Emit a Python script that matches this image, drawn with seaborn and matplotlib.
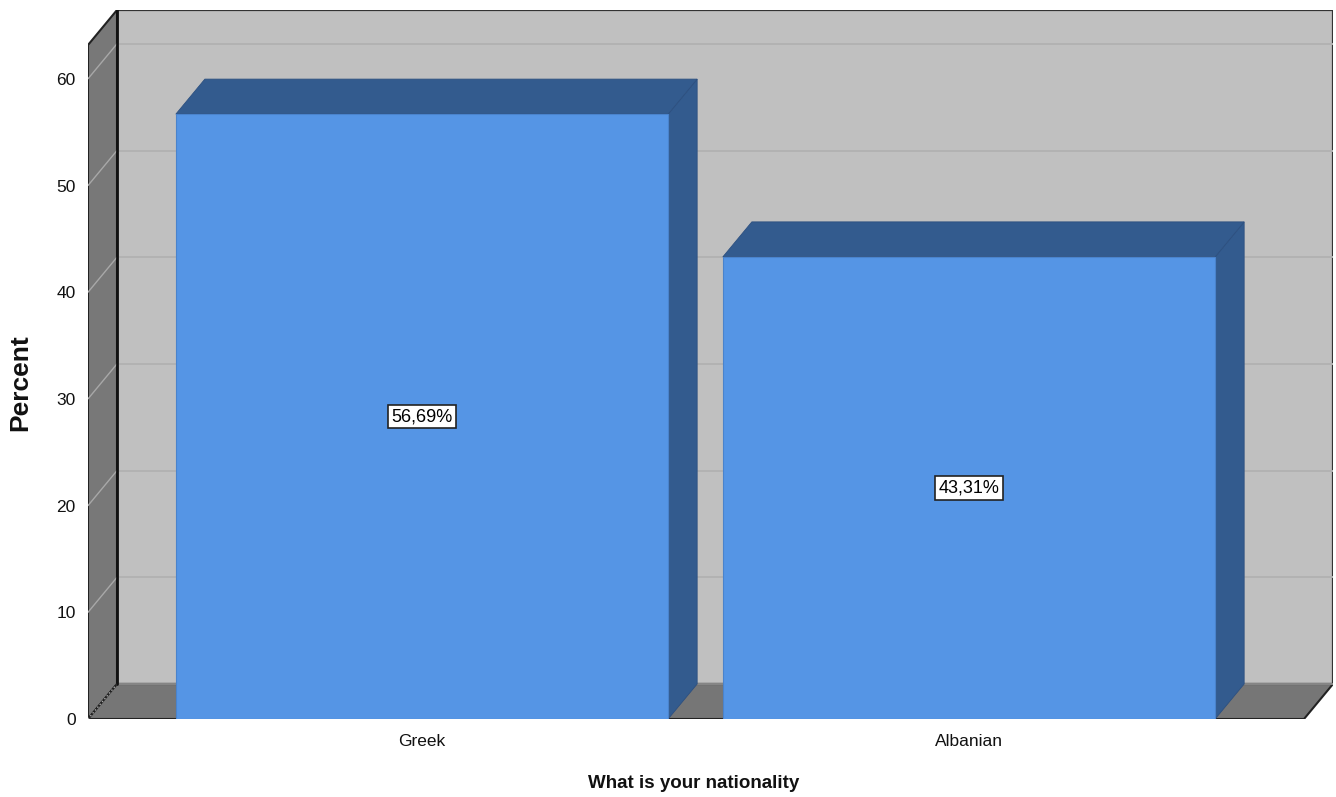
import matplotlib
matplotlib.use("Agg")
import matplotlib.pyplot as plt
import seaborn as sns
import pandas as pd
from matplotlib.patches import Polygon, Rectangle

# Data
categories = ["Greek", "Albanian"]
percent = [56.69, 43.31]
value_labels = ["56,69%", "43,31%"]
y_ticks = [0, 10, 20, 30, 40, 50, 60]

sns.set_theme(style="white")
plt.rcParams["font.family"] = ["Liberation Sans", "DejaVu Sans"]

FRONT = "#5595e5"
SIDE = "#335b8e"
WALL = "#c0c0c0"
DARK_WALL = "#787878"
EDGE = "#222222"

W, H = 1336, 797
fig = plt.figure(figsize=(W / 100, H / 100), dpi=100)

# pixel geometry of the 3D box (front-left-bottom corner to back-right-top)
left_px, right_px, top_px, base_px = 88, 1333, 10, 719
ax = fig.add_axes([left_px / W, 1 - base_px / H,
                   (right_px - left_px) / W, (base_px - top_px) / H])

px_per_y = 10.67          # pixels per percent
px_per_cat = 547.0        # pixels between category centres
first_centre_px = 422
depth_x_px, depth_y_px = 29, 35

x0 = -(first_centre_px - left_px) / px_per_cat
x_right = x0 + (1304 - left_px) / px_per_cat
dx = depth_x_px / px_per_cat
dy = depth_y_px / px_per_y
y_top = (base_px - top_px) / px_per_y
front_top = y_top - dy

df = pd.DataFrame({"nationality": categories, "percent": percent})
sns.barplot(data=df, x="nationality", y="percent", color=FRONT, saturation=1,
            width=0.9, edgecolor="#4a83cc", linewidth=0.8, zorder=6, ax=ax)

# back wall
ax.add_patch(Rectangle((x0 + dx, dy), x_right - x0, front_top, facecolor=WALL,
                       edgecolor="#333333", linewidth=1.6, zorder=0))
for t in y_ticks[1:]:
    ax.plot([x0 + dx, x_right + dx], [t + dy, t + dy], color="#b2b2b2",
            linewidth=1.4, zorder=0.5)
# left side wall
ax.add_patch(Polygon([(x0, 0), (x0, front_top), (x0 + dx, y_top), (x0 + dx, dy)],
                     closed=True, facecolor=DARK_WALL, edgecolor=EDGE,
                     linewidth=1.5, zorder=1))
for t in y_ticks:
    ax.plot([x0, x0 + dx], [t, t + dy], color="#a8a8a8", linewidth=1.0,
            linestyle=":" if t == 0 else "-", zorder=1.5)
# floor
ax.add_patch(Polygon([(x0, 0), (x_right, 0), (x_right + dx, dy), (x0 + dx, dy)],
                     closed=True, facecolor="#767676", edgecolor=EDGE,
                     linewidth=1.5, zorder=1.2))
ax.plot([x0 + dx, x_right + dx], [dy, dy], color="#999999", linewidth=1.2, zorder=1.3)
ax.plot([x0 + dx, x0 + dx], [dy, y_top], color="#111111", linewidth=2.0, zorder=1.6)

# depth faces of each bar, plus its value label
for bar, lab in zip(ax.patches[:len(categories)], value_labels):
    bx, bw, bh = bar.get_x(), bar.get_width(), bar.get_height()
    ax.add_patch(Polygon([(bx + bw, 0), (bx + bw + dx, dy), (bx + bw + dx, bh + dy),
                          (bx + bw, bh)], closed=True, facecolor=SIDE,
                         edgecolor="#2d5080", linewidth=0.6, zorder=5))
    ax.add_patch(Polygon([(bx, bh), (bx + bw, bh), (bx + bw + dx, bh + dy),
                          (bx + dx, bh + dy)], closed=True, facecolor=SIDE,
                         edgecolor="#2d5080", linewidth=0.6, zorder=5))
    ax.text(bx + bw / 2, bh / 2, lab, ha="center", va="center", fontsize=13,
            color="black", zorder=8,
            bbox=dict(boxstyle="square,pad=0.18", facecolor="white",
                      edgecolor="#222222", linewidth=1.2))

ax.set_xlim(x0, x0 + (right_px - left_px) / px_per_cat)
ax.set_ylim(0, y_top)
ax.set_yticks(y_ticks)
ax.set_yticklabels([str(t) for t in y_ticks])
ax.tick_params(axis="both", length=0, labelsize=12.5, colors="#111111")
ax.tick_params(axis="y", pad=9)
ax.tick_params(axis="x", pad=11)
for s in ax.spines.values():
    s.set_visible(False)
ax.set_xlabel("")
ax.set_ylabel("")
ax.grid(False)

fig.text(20 / W, 1 - 383 / H, "Percent", rotation=90, ha="center", va="center",
         fontsize=19, fontweight="bold", color="#111111")
fig.text(694 / W, 1 - 783 / H, "What is your nationality", ha="center",
         va="center", fontsize=13.5, fontweight="bold", color="#111111")

fig.savefig("out.png", dpi=100, facecolor="white")
